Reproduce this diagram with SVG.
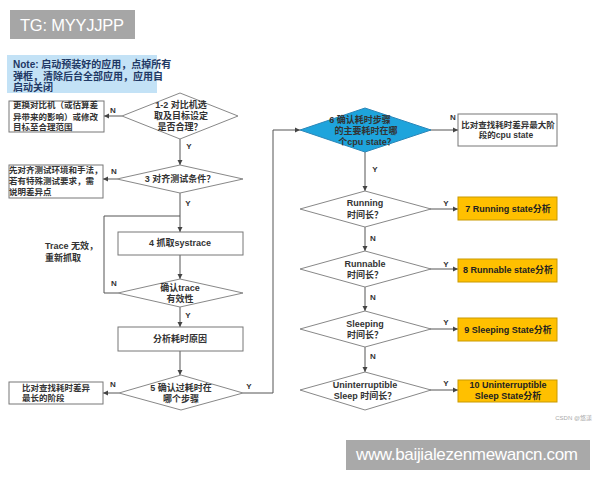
<svg xmlns="http://www.w3.org/2000/svg" width="600" height="480" viewBox="0 0 600 480">
<defs>
<marker id="arr" markerWidth="6" markerHeight="6" refX="5" refY="3" orient="auto" markerUnits="userSpaceOnUse">
<path d="M0,0.5 L5,3 L0,5.5 Z" fill="#444"/>
</marker>
<style>
.bg{fill:#ffffff}
.box{fill:#ffffff;stroke:#777;stroke-width:1}
.dia{fill:#ffffff;stroke:#888;stroke-width:1}
.blue{fill:#1ea4dc;stroke:#2a86b8;stroke-width:1}
.gold{fill:#ffc000;stroke:#c99a00;stroke-width:1}
.con{fill:none;stroke:#555;stroke-width:1}
.t{font-family:"Liberation Sans","Noto Sans CJK SC",sans-serif;font-size:9px;font-weight:bold;fill:#333}
.tl{font-family:"Liberation Sans","Noto Sans CJK SC",sans-serif;font-size:8.5px;font-weight:bold;fill:#333}
.tc{text-anchor:middle}
.yn{font-family:"Liberation Sans",sans-serif;font-size:8px;font-weight:bold;fill:#333;text-anchor:middle}
.gt{font-family:"Liberation Sans","Noto Sans CJK SC",sans-serif;font-size:9px;font-weight:bold;fill:#222;text-anchor:middle}
.note{font-family:"Liberation Sans","Noto Sans CJK SC",sans-serif;font-size:10px;font-weight:bold;fill:#1f3864}
.wm{font-family:"Liberation Sans",sans-serif;fill:#ffffff}
</style>
</defs>
<rect class="bg" x="0" y="0" width="600" height="480"/>

<g id="tg">
<rect x="10" y="10" width="125" height="29" fill="#a6a6a6"/>
<text class="wm" x="20" y="31" font-size="16.5" textLength="104">TG: MYYJJPP</text>
</g>

<g id="note">
<rect x="7" y="55" width="150" height="38" fill="#c3e2f6"/>
<text class="note" x="13" y="68">Note: 启动预装好的应用，点掉所有</text>
<text class="note" x="13" y="80">弹框，清除后台全部应用，应用自</text>
<text class="note" x="13" y="91">启动关闭</text>
</g>

<g id="connectors">
<line class="con" x1="122" y1="116" x2="104" y2="116" marker-end="url(#arr)"/>
<line class="con" x1="180" y1="139" x2="180" y2="165" marker-end="url(#arr)"/>
<line class="con" x1="117" y1="179" x2="103" y2="179" marker-end="url(#arr)"/>
<line class="con" x1="180" y1="193" x2="180" y2="232" marker-end="url(#arr)"/>
<polyline class="con" points="118,293 104,293 104,216 180,216"/>
<line class="con" x1="180" y1="255" x2="180" y2="279" marker-end="url(#arr)"/>
<line class="con" x1="180" y1="307" x2="180" y2="327" marker-end="url(#arr)"/>
<line class="con" x1="180" y1="351" x2="180" y2="375" marker-end="url(#arr)"/>
<line class="con" x1="119" y1="393" x2="103" y2="393" marker-end="url(#arr)"/>
<polyline class="con" points="243,393 273,393 273,130 300,130" marker-end="url(#arr)"/>
<line class="con" x1="430" y1="130" x2="458" y2="130" marker-end="url(#arr)"/>
<line class="con" x1="365" y1="152" x2="365" y2="191" marker-end="url(#arr)"/>
<line class="con" x1="430" y1="209" x2="458" y2="209" marker-end="url(#arr)"/>
<line class="con" x1="365" y1="227" x2="365" y2="251" marker-end="url(#arr)"/>
<line class="con" x1="430" y1="269" x2="458" y2="269" marker-end="url(#arr)"/>
<line class="con" x1="365" y1="287" x2="365" y2="311" marker-end="url(#arr)"/>
<line class="con" x1="430" y1="329" x2="458" y2="329" marker-end="url(#arr)"/>
<line class="con" x1="365" y1="347" x2="365" y2="372" marker-end="url(#arr)"/>
<line class="con" x1="430" y1="390" x2="458" y2="390" marker-end="url(#arr)"/>
<text class="yn" x="113" y="113">N</text>
<text class="yn" x="189" y="149">Y</text>
<text class="yn" x="114" y="174">N</text>
<text class="yn" x="188" y="206">Y</text>
<text class="yn" x="114" y="286">N</text>
<text class="yn" x="188" y="318">Y</text>
<text class="yn" x="113" y="387">N</text>
<text class="yn" x="249" y="389">Y</text>
<text class="yn" x="453" y="120">N</text>
<text class="yn" x="375" y="172">Y</text>
<text class="yn" x="446" y="206">Y</text>
<text class="yn" x="373" y="241">N</text>
<text class="yn" x="446" y="267">Y</text>
<text class="yn" x="373" y="300">N</text>
<text class="yn" x="446" y="325">Y</text>
<text class="yn" x="373" y="359">N</text>
<text class="yn" x="446" y="386">Y</text>
<text class="t" x="45" y="249">Trace 无效，</text>
<text class="t" x="45" y="261">重新抓取</text>
</g>

<g id="box-replace">
<rect class="box" x="9" y="101" width="95" height="31"/>
<text class="tl" x="13" y="108">更换对比机（或估算差</text>
<text class="tl" x="13" y="120">异带来的影响）或修改</text>
<text class="tl" x="13" y="130">目标至合理范围</text>
</g>

<g id="d12">
<polygon class="dia" points="180,93 238,116 180,139 122,116"/>
<text class="t tc" x="181" y="108">1-2 对比机选</text>
<text class="t tc" x="181" y="119">取及目标设定</text>
<text class="t tc" x="180" y="130">是否合理？</text>
</g>

<g id="box-align">
<rect class="box" x="9" y="165" width="94" height="33"/>
<text class="tl" x="9" y="173">先对齐测试环境和手法，</text>
<text class="tl" x="9" y="184">若有特殊测试要求，需</text>
<text class="tl" x="9" y="195">说明差异点</text>
</g>

<g id="d3">
<polygon class="dia" points="180,165 243,179 180,193 117,179"/>
<text class="t tc" x="180" y="182">3 对齐测试条件？</text>
</g>

<g id="box4">
<rect class="box" x="118" y="232" width="125" height="23"/>
<text class="t tc" x="180" y="246">4 抓取systrace</text>
</g>

<g id="dtrace">
<polygon class="dia" points="180,279 243,293 180,307 118,293"/>
<text class="t tc" x="180" y="291">确认trace</text>
<text class="t tc" x="180" y="302">有效性</text>
</g>

<g id="box-analyze">
<rect class="box" x="118" y="327" width="125" height="24"/>
<text class="t tc" x="180" y="342">分析耗时原因</text>
</g>

<g id="d5">
<polygon class="dia" points="181,375 243,393 181,410 119,393"/>
<text class="t tc" x="181" y="391">5 确认过耗时在</text>
<text class="t tc" x="181" y="402">哪个步骤</text>
</g>

<g id="box-stage">
<rect class="box" x="9" y="382" width="94" height="22"/>
<text class="tl" x="22" y="391">比对查找耗时差异</text>
<text class="tl" x="22" y="401">最长的阶段</text>
</g>

<g id="d6">
<polygon class="blue" points="365,108 431,130 365,152 300,130"/>
<text class="t tc" x="360" y="123">6 确认耗时步骤</text>
<text class="t tc" x="366" y="134">的主要耗时在哪</text>
<text class="t tc" x="367" y="145">个cpu state？</text>
</g>

<g id="box-cpustate">
<rect class="box" x="458" y="114" width="99" height="32"/>
<text class="tl" x="508" y="128" text-anchor="middle">比对查找耗时差异最大阶</text>
<text class="tl" x="506" y="138" text-anchor="middle">段的cpu state</text>
</g>

<g id="d-running">
<polygon class="dia" points="365,191 431,209 365,227 300,209"/>
<text class="t tc" x="365" y="206">Running</text>
<text class="t tc" x="365" y="218">时间长？</text>
</g>
<g id="box7">
<rect class="gold" x="458" y="197" width="99" height="23"/>
<text class="gt" x="508" y="212">7 Running state分析</text>
</g>

<g id="d-runnable">
<polygon class="dia" points="365,251 431,269 365,287 300,269"/>
<text class="t tc" x="365" y="267">Runnable</text>
<text class="t tc" x="365" y="278">时间长？</text>
</g>
<g id="box8">
<rect class="gold" x="458" y="259" width="99" height="23"/>
<text class="gt" x="508" y="273">8 Runnable state分析</text>
</g>

<g id="d-sleeping">
<polygon class="dia" points="365,311 431,329 365,347 300,329"/>
<text class="t tc" x="365" y="327">Sleeping</text>
<text class="t tc" x="365" y="338">时间长？</text>
</g>
<g id="box9">
<rect class="gold" x="458" y="318" width="99" height="23"/>
<text class="gt" x="508" y="333">9 Sleeping State分析</text>
</g>

<g id="d-unint">
<polygon class="dia" points="365,372 431,390 365,410 300,390"/>
<text class="t tc" x="365" y="388">Uninterruptible</text>
<text class="t tc" x="365" y="399">Sleep 时间长？</text>
</g>
<g id="box10">
<rect class="gold" x="458" y="380" width="99" height="22"/>
<text class="gt" x="508" y="388">10 Uninterruptible</text>
<text class="gt" x="508" y="399">Sleep State分析</text>
</g>

<text x="592" y="420" text-anchor="end" font-family="Liberation Sans,Noto Sans CJK SC,sans-serif" font-size="6" fill="#aaa">CSDN @悠漾</text>

<g id="url">
<rect x="346" y="440" width="244" height="30" fill="#a9a9a9"/>
<text class="wm" x="356" y="460" font-size="17" textLength="222">www.baijialezenmewancn.com</text>
</g>
</svg>
